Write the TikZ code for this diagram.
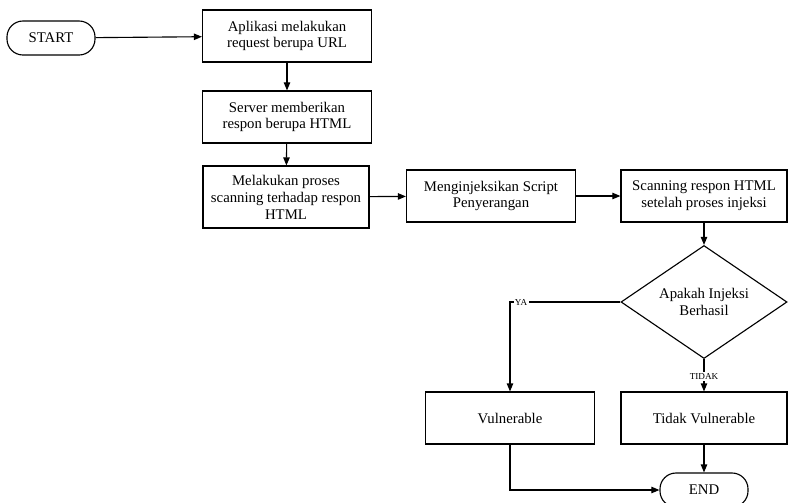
\documentclass[tikz,border=0pt]{standalone}
\usepackage{fontspec}
\setmainfont{Liberation Serif}
\usetikzlibrary{positioning,shapes.geometric,arrows.meta}

\begin{document}
\begin{tikzpicture}[x=0.025cm,y=-0.025cm,
    font=\fontsize{10.5}{12}\selectfont,
    proses/.style={draw,line width=0.8pt,align=center,minimum width=4.225cm,minimum height=1.3cm,inner sep=2pt},
    terminal/.style={draw,line width=0.8pt,rounded corners=0.4cm,minimum width=2.2cm,minimum height=0.85cm},
    keputusan/.style={draw,line width=0.8pt,diamond,aspect=1.49,align=center,minimum width=4.15cm,minimum height=2.825cm,inner sep=0pt},
    panah/.style={line width=0.8pt,-{Triangle[length=2mm,width=1.6mm]}},
    label/.style={fill=white,inner sep=1pt,font=\fontsize{6.5}{7}\selectfont}]
\useasboundingbox (0,0) rectangle (788,502);

% Alur utama
\node[terminal] (start) at (51,38) {START};
\node[proses] (n1) at (287,36) {Aplikasi melakukan\\request berupa URL};
\node[proses] (n2) at (287,117) {Server memberikan\\respon berupa HTML};
\node[proses,minimum width=4.15cm,minimum height=1.55cm] (n3) at (286,197) {Melakukan proses\\scanning terhadap respon\\HTML};
\node[proses] (n4) at (491,196) {Menginjeksikan Script\\Penyerangan};
\node[proses,minimum width=4.15cm] (n5) at (704,196) {Scanning respon HTML\\setelah proses injeksi};

% Keputusan
\node[keputusan] (dec) at (704,302) {Apakah Injeksi\\Berhasil};

% Hasil
\node[proses] (vul) at (510,418) {Vulnerable};
\node[proses,minimum width=4.15cm] (tvul) at (704,418) {Tidak Vulnerable};
\node[terminal] (finish) at (704,490) {END};

% Panah
\draw[panah] (start) -- (n1);
\draw[panah] (n1) -- (n2);
\draw[panah] (n2) -- (n3);
\draw[panah] (n3) -- (n4);
\draw[panah] (n4) -- (n5);
\draw[panah] (n5) -- (dec);
\draw[panah] (dec.west) -| node[label,pos=0.45] {YA} (vul.north);
\draw[panah] (dec.south) -- node[label,pos=0.55] {TIDAK} (tvul.north);
\draw[panah] (tvul) -- (finish);
\draw[panah] (vul.south) |- (finish.west);

\end{tikzpicture}
\end{document}
